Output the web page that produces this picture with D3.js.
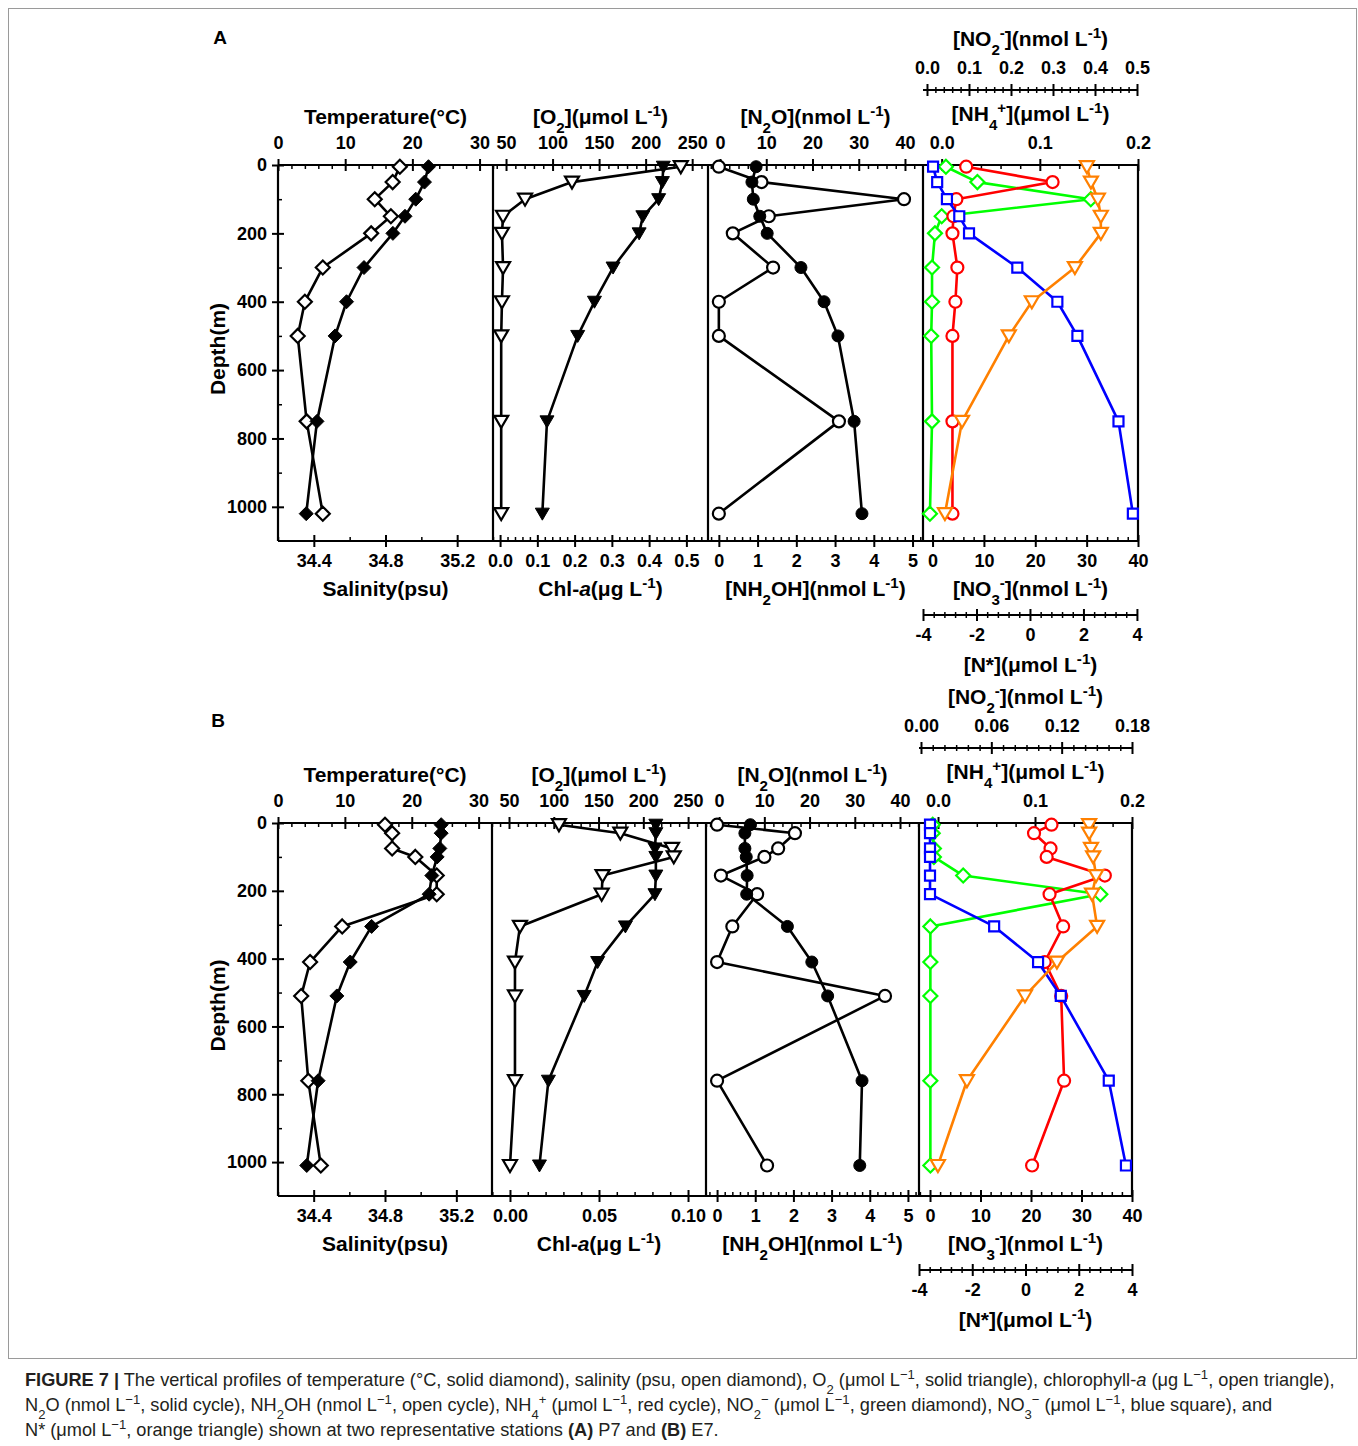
<!DOCTYPE html>
<html>
<head>
<meta charset="utf-8">
<script src="https://cdn.jsdelivr.net/npm/d3@7"></script>
<style>
  body { margin: 0; background: #fff; }
  svg text { font-family: "Liberation Sans", Arial, sans-serif; fill: #000; }
  .tick text { font-weight: bold; font-size: 18px; }
  .ttl { font-weight: bold; font-size: 21px; }
  .cap { font-size: 18.2px; fill: #231f20; }
</style>
</head>
<body>
<script>
// ---- depth axis
const depthTicks = [0, 200, 400, 600, 800, 1000];
const depthMinor = [100, 300, 500, 700, 900];

// ---- station P7 (panel A)
const depthA = [5, 50, 100, 150, 200, 300, 400, 500, 750, 1020];
const tempA = [22.4, 21.8, 20.5, 18.9, 17.1, 12.8, 10.2, 8.5, 5.8, 4.2];
const salA = [34.88, 34.84, 34.74, 34.83, 34.72, 34.45, 34.35, 34.31, 34.36, 34.45];
const o2A = [219, 218, 214, 197, 193, 165, 145, 127, 94, 89];
const chlA = [0.485, 0.193, 0.067, 0.008, 0.005, 0.008, 0.005, 0.003, 0.003, 0.003];
const n2oA = [7.8, 6.9, 7.2, 8.6, 10.2, 17.5, 22.5, 25.5, 29.0, 30.7];
const nh2ohA = [0.0, 1.1, 4.78, 1.29, 0.36, 1.40, 0.0, 0.0, 3.1, 0.0];
const nh4A = [0.025, 0.113, 0.015, 0.012, 0.011, 0.016, 0.014, 0.011, 0.011, 0.011];
const no2A = [0.045, 0.12, 0.39, 0.035, 0.019, 0.012, 0.012, 0.010, 0.012, 0.007];
const no3A = [0.1, 0.9, 2.8, 5.2, 7.1, 16.5, 24.3, 28.2, 36.2, 39.0];
const nstarA = [2.13, 2.28, 2.54, 2.65, 2.65, 1.68, 0.07, -0.79, -2.54, -3.18];

// ---- station E7 (panel B)
const depthB = [5, 30, 75, 100, 155, 210, 305, 410, 510, 760, 1010];
const tempB = [24.4, 24.4, 24.2, 23.8, 23.0, 22.6, 14.0, 10.8, 8.8, 6.0, 4.3];
const salB = [34.80, 34.84, 34.84, 34.97, 35.09, 35.09, 34.56, 34.38, 34.33, 34.37, 34.44];
const o2B = [214, 214, 213, 214, 214, 213, 180, 149, 134, 94, 84];
const chlB = [0.0275, 0.062, 0.091, 0.092, 0.052, 0.0515, 0.0056, 0.0028, 0.0028, 0.0028, 0.0];
const n2oB = [6.9, 5.7, 5.7, 6.0, 6.2, 6.1, 15.1, 20.5, 24.0, 31.6, 31.1];
const nh2ohB = [0.0, 2.04, 1.6, 1.24, 0.10, 1.05, 0.40, 0.0, 4.40, 0.0, 1.31];
const nh4B = [0.117, 0.099, 0.116, 0.112, 0.172, 0.115, 0.129, 0.110, 0.127, 0.130, 0.097];
const no2B = [0.010, 0.010, 0.011, 0.011, 0.036, 0.153, 0.008, 0.008, 0.008, 0.008, 0.008];
const no3B = [0, 0, 0, 0, 0, 0, 12.7, 21.4, 25.9, 35.4, 38.8];
const nstarB = [2.39, 2.39, 2.46, 2.54, 2.65, 2.5, 2.69, 1.18, -0.02, -2.2, -3.29];

// ---- tick labels
const tempTicks = [0, 10, 20, 30];
const salTicks = [34.4, 34.8, 35.2];
const o2Ticks = [50, 100, 150, 200, 250];
const chlTicksA = [0, 0.1, 0.2, 0.3, 0.4, 0.5];
const chlTicksB = [0, 0.05, 0.10];
const n2oTicks = [0, 10, 20, 30, 40];
const nh2ohTicks = [0, 1, 2, 3, 4, 5];
const nh4Ticks = [0, 0.1, 0.2];
const no3Ticks = [0, 10, 20, 30, 40];
const no2TicksA = [0, 0.1, 0.2, 0.3, 0.4, 0.5];
const no2TicksB = [0, 0.06, 0.12, 0.18];
const nstarTicks = [-4, -2, 0, 2, 4];

const shapes = {
  diamond: "M0,-7L7,0L0,7L-7,0Z",
  tri: "M-7,-5.5L7,-5.5L0,6.5Z",
  square: "M-5,-5H5V5H-5Z",
  circle: "M6,0A6,6 0 1,1 -6,0A6,6 0 1,1 6,0Z"
};

// plain hyphen minus, no thousands comma
const fmt = f => d => d3.format(f)(d).replace("\u2212", "-");

const svg = d3.select("body").append("svg").attr("width", 1358).attr("height", 1446);

svg.append("rect")
  .attr("x", 8.5).attr("y", 8.5).attr("width", 1348).attr("height", 1350)
  .attr("fill", "none").attr("stroke", "#9a9a9a").attr("stroke-width", 1);

// text with _{sub} ^{sup} ~{italic} !{bold}
function rich(sel, str) {
  str.split(/([_^~!]\{[^}]*\})/).filter(s => s).forEach(part => {
    const m = part.match(/^([_^~!])\{(.*)\}$/);
    const t = sel.append("tspan");
    if (!m) { t.text(part); return; }
    t.text(m[2]);
    if (m[1] === "_") t.attr("baseline-shift", "sub").attr("font-size", "72%");
    if (m[1] === "^") t.attr("baseline-shift", "super").attr("font-size", "72%");
    if (m[1] === "~") t.attr("font-style", "italic");
    if (m[1] === "!") t.attr("font-weight", "bold");
  });
  return sel;
}

function title(g, x, y, str) {
  rich(g.append("text").attr("class", "ttl").attr("x", x).attr("y", y)
    .attr("text-anchor", "middle"), str);
}

function minorOf(scale, step, majors) {
  const [lo, hi] = scale.domain();
  return d3.range(Math.ceil(lo / step - 1e-6), Math.floor(hi / step + 1e-6) + 1)
    .map(k => +(k * step).toFixed(6))
    .filter(v => majors.every(t => Math.abs(t - v) > step / 4));
}

function axisH(g, x, spec, yPos, side, free) {
  const up = side === "top";
  const axisFn = up ? d3.axisTop : d3.axisBottom;
  const gg = g.append("g").attr("transform", `translate(0,${yPos})`);
  if (free) {
    gg.append("line").attr("x1", x.range()[0]).attr("x2", x.range()[1])
      .attr("stroke", "#000").attr("stroke-width", 2);
  }
  const lab = gg.append("g")
    .call(axisFn(x).tickValues(spec.ticks).tickSize(6)
      .tickPadding(up ? 10 : 7).tickFormat(fmt(spec.fmt)));
  const inn = gg.append("g")
    .call(axisFn(x).tickValues(spec.ticks).tickSize(-6).tickFormat(""));
  const mn = minorOf(x, spec.minor, spec.ticks);
  const mi = gg.append("g")
    .call(axisFn(x).tickValues(mn).tickSize(free ? 3 : -4).tickFormat(""));
  if (free) {
    gg.append("g").call(axisFn(x).tickValues(mn).tickSize(-3).tickFormat(""))
      .call(s => s.select(".domain").remove())
      .selectAll("line").attr("stroke-width", 1.5);
  }
  [lab, inn, mi].forEach(s => {
    s.attr("font-size", null).attr("font-family", null);
    s.select(".domain").remove();
  });
  lab.selectAll("line").attr("stroke-width", 2);
  inn.selectAll("line").attr("stroke-width", 2);
  mi.selectAll("line").attr("stroke-width", 1.5);
}

function drawPanel(p) {
  const g = svg.append("g");
  const c = p.cols;
  const y = d3.scaleLinear().domain([0, 1100]).range([p.top, p.bottom]);

  g.append("text").attr("x", p.letter[1]).attr("y", p.letter[2])
    .attr("text-anchor", "middle").attr("font-weight", "bold").attr("font-size", 19)
    .text(p.letter[0]);

  // depth axis
  const left = g.append("g").attr("transform", `translate(${c[0]},0)`);
  left.append("g").call(d3.axisLeft(y).tickValues(depthTicks).tickSize(6).tickPadding(5)
      .tickFormat(fmt("d")))
    .call(s => s.attr("font-size", null).attr("font-family", null))
    .call(s => s.select(".domain").remove())
    .selectAll("line").attr("stroke-width", 2);
  left.append("g").call(d3.axisLeft(y).tickValues(depthTicks).tickSize(-6).tickFormat(""))
    .call(s => s.select(".domain").remove())
    .selectAll("line").attr("stroke-width", 2);
  left.append("g").call(d3.axisLeft(y).tickValues(depthMinor).tickSize(-4).tickFormat(""))
    .call(s => s.select(".domain").remove())
    .selectAll("line").attr("stroke-width", 1.5);
  g.append("text").attr("class", "ttl")
    .attr("transform", `translate(217,${(p.top + p.bottom) / 2 - 4}) rotate(-90)`)
    .attr("text-anchor", "middle").attr("dominant-baseline", "central").text("Depth(m)");

  // scales for every axis
  const sc = {};
  p.topAxes.forEach((a, i) => {
    sc["t" + i] = d3.scaleLinear().domain(a.domain).range([c[i], c[i + 1]]);
    axisH(g, sc["t" + i], a, p.top, "top", false);
    title(g, (c[i] + c[i + 1]) / 2, p.top - (i === 3 ? 44 : 41), a.title);
  });
  p.bottomAxes.forEach((a, i) => {
    sc["b" + i] = d3.scaleLinear().domain(a.domain).range([c[i], c[i + 1]]);
    axisH(g, sc["b" + i], a, p.bottom, "bottom", false);
    title(g, (c[i] + c[i + 1]) / 2, p.bottom + 55, a.title);
  });
  const mid = (c[3] + c[4]) / 2;
  sc.no2 = d3.scaleLinear().domain(p.no2.domain).range([c[3], c[4]]);
  axisH(g, sc.no2, p.no2, p.top - 75, "top", true);
  title(g, mid, p.top - 75 - 44, p.no2.title);
  sc.nstar = d3.scaleLinear().domain(p.nstar.domain).range([c[3], c[4]]);
  axisH(g, sc.nstar, p.nstar, p.bottom + 74, "bottom", true);
  title(g, mid, p.bottom + 74 + 57, p.nstar.title);

  // frame
  const fr = g.append("g").attr("stroke", "#000").attr("stroke-width", 2.2);
  fr.append("line").attr("x1", c[0]).attr("x2", c[4]).attr("y1", p.top).attr("y2", p.top);
  fr.append("line").attr("x1", c[0]).attr("x2", c[4]).attr("y1", p.bottom).attr("y2", p.bottom);
  c.forEach(xx => fr.append("line").attr("x1", xx).attr("x2", xx).attr("y1", p.top).attr("y2", p.bottom));

  // profiles
  p.series.forEach(s => {
    const x = sc[s.ax];
    const col = s.color || "#000";
    const pts = s.values.map((v, i) => [x(v), y(p.depth[i])]);
    g.append("path").datum(pts)
      .attr("d", d3.line())
      .attr("fill", "none").attr("stroke", col).attr("stroke-width", 2.6)
      .attr("stroke-linejoin", "round");
    g.append("g").selectAll("path").data(pts).join("path")
      .attr("transform", d => `translate(${d[0]},${d[1]})`)
      .attr("d", shapes[s.shape])
      .attr("fill", s.open ? "#fff" : col)
      .attr("stroke", col).attr("stroke-width", s.open ? 2.2 : 1);
  });
}

function seriesFor(v) {
  return [
    { ax: "b0", values: v[1], shape: "diamond", open: true },
    { ax: "t0", values: v[0], shape: "diamond", open: false },
    { ax: "b1", values: v[3], shape: "tri", open: true },
    { ax: "t1", values: v[2], shape: "tri", open: false },
    { ax: "b2", values: v[5], shape: "circle", open: true },
    { ax: "t2", values: v[4], shape: "circle", open: false },
    { ax: "no2", values: v[7], shape: "diamond", color: "#00ff00", open: true },
    { ax: "t3", values: v[6], shape: "circle", color: "#ff0000", open: true },
    { ax: "b3", values: v[8], shape: "square", color: "#0000ff", open: true },
    { ax: "nstar", values: v[9], shape: "tri", color: "#ff8000", open: true }
  ];
}

const T_TEMP = "Temperature(°C)", T_O2 = "[O_{2}](μmol L^{-1})", T_N2O = "[N_{2}O](nmol L^{-1})",
  T_NH4 = "[NH_{4}^{+}](μmol L^{-1})", T_SAL = "Salinity(psu)", T_CHL = "Chl-~{a}(μg L^{-1})",
  T_NH2OH = "[NH_{2}OH](nmol L^{-1})", T_NO3 = "[NO_{3}^{-}](nmol L^{-1})",
  T_NO2 = "[NO_{2}^{-}](nmol L^{-1})", T_NSTAR = "[N*](μmol L^{-1})";

drawPanel({
  letter: ["A", 220, 44],
  top: 165, bottom: 541, cols: [278, 493, 708, 923, 1138],
  depth: depthA,
  topAxes: [
    { title: T_TEMP, domain: [0, 32], ticks: tempTicks, minor: 2, fmt: "d" },
    { title: T_O2, domain: [36, 267], ticks: o2Ticks, minor: 10, fmt: "d" },
    { title: T_N2O, domain: [-2.6, 43.9], ticks: n2oTicks, minor: 2, fmt: "d" },
    { title: T_NH4, domain: [-0.019, 0.2], ticks: nh4Ticks, minor: 0.02, fmt: ".1f" }
  ],
  bottomAxes: [
    { title: T_SAL, domain: [34.2, 35.4], ticks: salTicks, minor: 0.2, fmt: ".1f" },
    { title: T_CHL, domain: [-0.019, 0.558], ticks: chlTicksA, minor: 0.02, fmt: ".1f" },
    { title: T_NH2OH, domain: [-0.28, 5.27], ticks: nh2ohTicks, minor: 0.2, fmt: "d" },
    { title: T_NO3, domain: [-1.86, 40], ticks: no3Ticks, minor: 2, fmt: "d" }
  ],
  no2: { title: T_NO2, domain: [-0.0095, 0.5024], ticks: no2TicksA, minor: 0.02, fmt: ".1f" },
  nstar: { title: T_NSTAR, domain: [-4, 4.04], ticks: nstarTicks, minor: 0.4, fmt: "d" },
  series: seriesFor([tempA, salA, o2A, chlA, n2oA, nh2ohA, nh4A, no2A, no3A, nstarA])
});

drawPanel({
  letter: ["B", 218, 727],
  top: 823, bottom: 1196, cols: [278, 492, 706, 919, 1132],
  depth: depthB,
  topAxes: [
    { title: T_TEMP, domain: [0, 32], ticks: tempTicks, minor: 2, fmt: "d" },
    { title: T_O2, domain: [31, 270], ticks: o2Ticks, minor: 10, fmt: "d" },
    { title: T_N2O, domain: [-2.9, 44.2], ticks: n2oTicks, minor: 2, fmt: "d" },
    { title: T_NH4, domain: [-0.0196, 0.2], ticks: nh4Ticks, minor: 0.02, fmt: ".1f" }
  ],
  bottomAxes: [
    { title: T_SAL, domain: [34.2, 35.4], ticks: salTicks, minor: 0.2, fmt: ".1f" },
    { title: T_CHL, domain: [-0.0101, 0.1101], ticks: chlTicksB, minor: 0.01, fmt: ".2f" },
    { title: T_NH2OH, domain: [-0.29, 5.29], ticks: nh2ohTicks, minor: 0.2, fmt: "d" },
    { title: T_NO3, domain: [-2.18, 40], ticks: no3Ticks, minor: 2, fmt: "d" }
  ],
  no2: { title: T_NO2, domain: [-0.0017, 0.18], ticks: no2TicksB, minor: 0.01, fmt: ".2f" },
  nstar: { title: T_NSTAR, domain: [-4, 4], ticks: nstarTicks, minor: 0.4, fmt: "d" },
  series: seriesFor([tempB, salB, o2B, chlB, n2oB, nh2ohB, nh4B, no2B, no3B, nstarB])
});

// caption
const capLines = [
  "!{FIGURE 7 |} The vertical profiles of temperature (°C, solid diamond), salinity (psu, open diamond), O_{2} (μmol L^{−1}, solid triangle), chlorophyll-~{a} (μg L^{−1}, open triangle),",
  "N_{2}O (nmol L^{−1}, solid cycle), NH_{2}OH (nmol L^{−1}, open cycle), NH_{4}^{+} (μmol L^{−1}, red cycle), NO_{2}^{−} (μmol L^{−1}, green diamond), NO_{3}^{−} (μmol L^{−1}, blue square), and",
  "N* (μmol L^{−1}, orange triangle) shown at two representative stations !{(A)} P7 and !{(B)} E7."
];
capLines.forEach((s, i) => {
  rich(svg.append("text").attr("class", "cap").attr("x", 25).attr("y", 1386 + i * 25), s);
});
</script>
</body>
</html>
